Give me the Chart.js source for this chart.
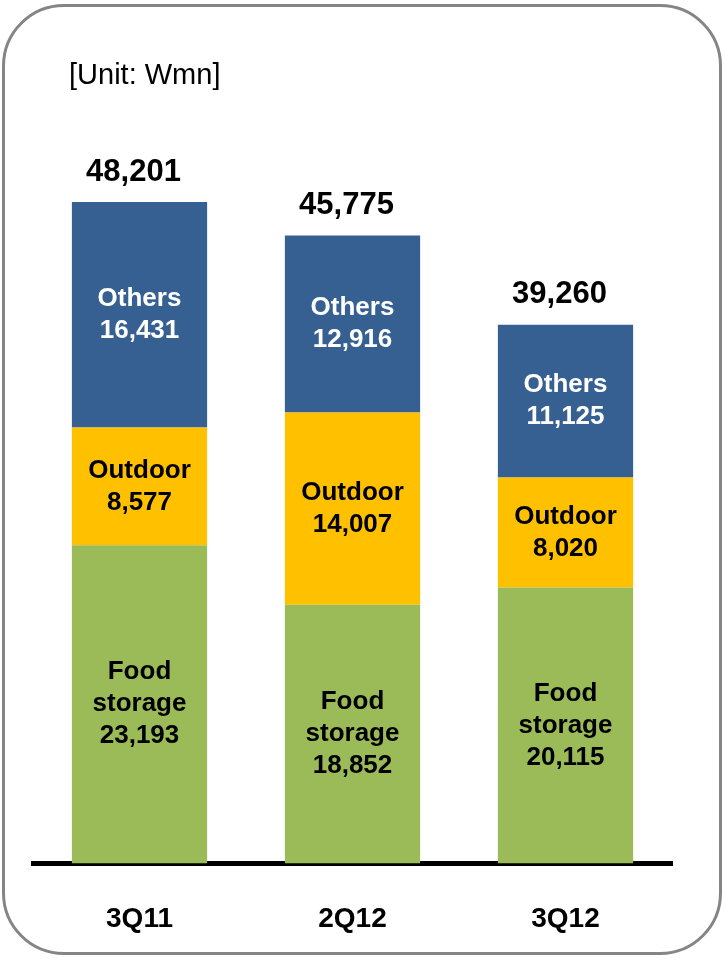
<!DOCTYPE html>
<html>
<head>
<meta charset="utf-8">
<script src="https://cdn.jsdelivr.net/npm/chart.js@4/dist/chart.umd.min.js"></script>
<style>
  html, body { margin: 0; padding: 0; background: #ffffff; overflow: hidden; }
  #wrap { position: relative; width: 725px; height: 959px; overflow: hidden; }
  #frame { position: absolute; left: 2px; top: 4px; width: 714px; height: 945px;
           border: 3px solid #858585; border-radius: 62px; pointer-events: none; }
  #unit { position: absolute; left: 69px; top: 58px; font-family: "Liberation Sans", Arial, sans-serif;
          font-size: 29px; color: #000; }
  canvas { position: absolute; left: 0; top: 0; }
</style>
</head>
<body>
<div id="wrap">
  <canvas id="c" width="725" height="999"></canvas>
  <div id="unit">[Unit: Wmn]</div>
  <div id="frame"></div>
</div>
<script>
const categories = ["3Q11", "2Q12", "3Q12"];
const foodStorage = [23193, 18852, 20115];
const outdoor = [8577, 14007, 8020];
const others = [16431, 12916, 11125];
const totals = [48201, 45775, 39260];
const seriesNames = [["Food", "storage"], ["Outdoor"], ["Others"]];

const fmt = v => v.toLocaleString("en-US");

const labelPlugin = {
  id: "labels",
  afterDatasetsDraw(chart) {
    const ctx = chart.ctx;
    ctx.save();
    ctx.textAlign = "center";
    ctx.textBaseline = "middle";
    chart.data.datasets.forEach((ds, di) => {
      const meta = chart.getDatasetMeta(di);
      meta.data.forEach((bar, i) => {
        const lines = seriesNames[di].concat([fmt(ds.data[i])]);
        const cy = (bar.y + bar.base) / 2;
        const lh = 32;
        ctx.font = "bold 26px 'Liberation Sans', Arial, sans-serif";
        ctx.fillStyle = di === 2 ? "#ffffff" : "#000000";
        lines.forEach((t, k) => {
          ctx.fillText(t, bar.x, cy + (k - (lines.length - 1) / 2) * lh);
        });
      });
    });
    // totals
    const top = chart.getDatasetMeta(2);
    ctx.font = "bold 31px 'Liberation Sans', Arial, sans-serif";
    ctx.fillStyle = "#000000";
    top.data.forEach((bar, i) => {
      ctx.fillText(fmt(totals[i]), bar.x - 6, bar.y - 30);
    });
    ctx.restore();
  }
};

new Chart(document.getElementById("c"), {
  type: "bar",
  data: {
    labels: categories,
    datasets: [
      { label: "Food storage", data: foodStorage, backgroundColor: "#9BBB59" },
      { label: "Outdoor", data: outdoor, backgroundColor: "#FFC000" },
      { label: "Others", data: others, backgroundColor: "#366092" }
    ]
  },
  options: {
    responsive: false,
    animation: false,
    devicePixelRatio: 1,
    layout: { padding: { left: 33, right: 53, top: 150, bottom: 24 } },
    plugins: { legend: { display: false }, tooltip: { enabled: false } },
    datasets: { bar: { categoryPercentage: 1, barPercentage: 0.635, borderWidth: 0 } },
    scales: {
      x: {
        stacked: true,
        grid: { display: false, drawTicks: false },
        border: { display: true, color: "#000000", width: 5 },
        ticks: { color: "#000000", padding: 39,
                 font: { family: "'Liberation Sans', Arial, sans-serif", size: 28, weight: "bold" } }
      },
      y: {
        stacked: true,
        display: false,
        min: 0,
        max: 52000
      }
    }
  },
  plugins: [labelPlugin]
});
</script>
</body>
</html>
